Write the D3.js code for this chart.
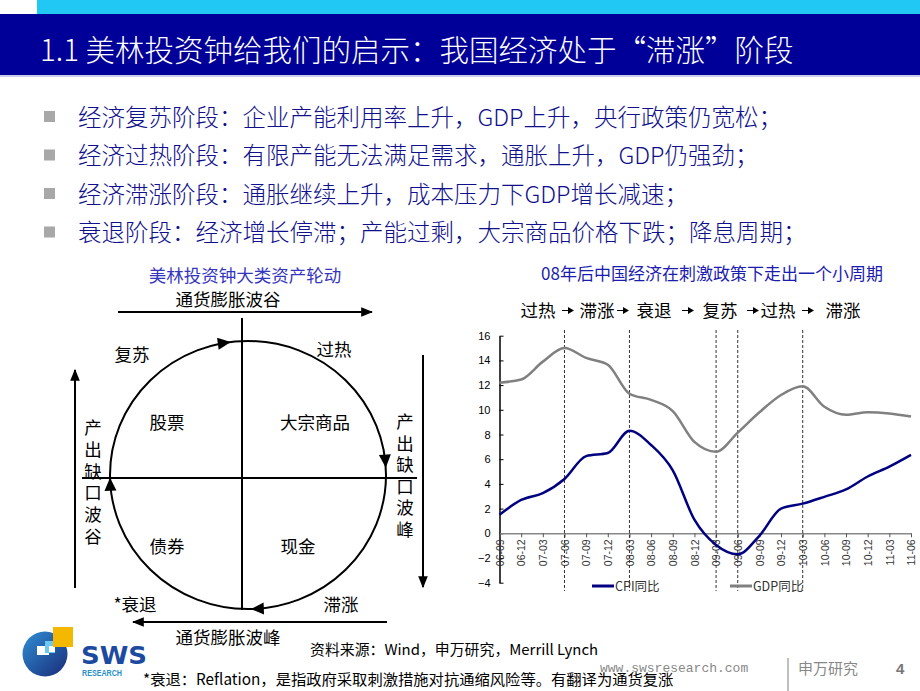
<!DOCTYPE html>
<html>
<head>
<meta charset="utf-8">
<script src="https://cdn.jsdelivr.net/npm/d3@7"></script>
<style>
  body { margin: 0; background: #fff; }
  svg { display: block; }
</style>
</head>
<body>
<div id="slide"></div>
<script>
// ---- data ----
var quarters = ["06-09","06-12","07-03","07-06","07-09","07-12","08-03","08-06","08-09","08-12",
                "09-03","09-06","09-09","09-12","10-03","10-06","10-09","10-12","11-03","11-06"];
var cpi = [1.5, 2.7, 3.25, 4.4, 6.25, 6.5, 8.3, 7.15, 5.1, 1.1,
           -0.95, -1.7, -0.2, 2.0, 2.4, 2.95, 3.55, 4.6, 5.4, 6.35];
var gdp = [12.2, 12.45, 13.9, 15.0, 14.2, 13.65, 11.3, 10.8, 9.9, 7.4,
           6.6, 8.15, 9.8, 11.2, 11.9, 10.25, 9.6, 9.8, 9.7, 9.45];
var yTicks = [16, 14, 12, 10, 8, 6, 4, 2, 0, -2, -4];
var turnPoints = ["07-06", "08-03", "09-03", "09-06", "10-03"];
var phaseNames = ["过热", "滞涨", "衰退", "复苏", "过热", "滞涨"];
var seriesNames = ["CPI同比", "GDP同比"];

var titleText = "1.1 美林投资钟给我们的启示：我国经济处于“滞涨”阶段";
var bullets = [
  "经济复苏阶段：企业产能利用率上升，GDP上升，央行政策仍宽松；",
  "经济过热阶段：有限产能无法满足需求，通胀上升，GDP仍强劲；",
  "经济滞涨阶段：通胀继续上升，成本压力下GDP增长减速；",
  "衰退阶段：经济增长停滞；产能过剩，大宗商品价格下跌；降息周期；"
];
var quadrants = ["股票", "大宗商品", "债券", "现金"];
var stages = ["复苏", "过热", "滞涨", "*衰退"];

var cjk = "'Noto Sans CJK SC', 'Noto Sans', sans-serif";
var arial = "'Liberation Sans', Arial, sans-serif";

var svg = d3.select("#slide").append("svg")
    .attr("width", 920)
    .attr("height", 691);

var defs = svg.append("defs");
defs.append("marker")
    .attr("id", "arrow")
    .attr("viewBox", "0 0 10 10")
    .attr("refX", 9).attr("refY", 5)
    .attr("markerWidth", 6).attr("markerHeight", 6)
    .attr("markerUnits", "strokeWidth")
    .attr("orient", "auto")
  .append("path")
    .attr("d", "M0,1 L10,5 L0,9 Z")
    .attr("fill", "#000");

var grad = defs.append("linearGradient")
    .attr("id", "logoGrad")
    .attr("x1", "0").attr("y1", "0").attr("x2", "1").attr("y2", "1");
grad.append("stop").attr("offset", "0%").attr("stop-color", "#2f8fd6");
grad.append("stop").attr("offset", "100%").attr("stop-color", "#1a2a78");

// ---- header ----
svg.append("rect").attr("x", 37).attr("y", 0).attr("width", 883).attr("height", 14)
    .attr("fill", "#22c8f4");
svg.append("rect").attr("x", 0).attr("y", 14).attr("width", 920).attr("height", 61)
    .attr("fill", "#000099");
svg.append("rect").attr("x", 0).attr("y", 75).attr("width", 920).attr("height", 2)
    .attr("fill", "#c8cce8");
svg.append("text")
    .attr("x", 40).attr("y", 61)
    .attr("font-family", cjk)
    .attr("font-size", "29.5px")
    .attr("font-weight", 300)
    .attr("fill", "#fff")
    .text(titleText);

// ---- bullets ----
var bulletG = svg.append("g");
bulletG.selectAll("rect")
    .data(bullets)
    .enter()
    .append("rect")
    .attr("x", 44)
    .attr("y", (d, i) => 111 + i * 38.5)
    .attr("width", 11).attr("height", 11)
    .attr("fill", "#a8a8a8");
bulletG.selectAll("text")
    .data(bullets)
    .enter()
    .append("text")
    .attr("x", 78)
    .attr("y", (d, i) => 125.5 + i * 38.5)
    .attr("font-family", cjk)
    .attr("font-size", "23.5px")
    .attr("font-weight", 300)
    .attr("fill", "#10108c")
    .text(d => d);

// ---- left: investment clock ----
var clock = svg.append("g");
clock.append("text")
    .attr("x", 245).attr("y", 282)
    .attr("text-anchor", "middle")
    .attr("font-family", cjk).attr("font-size", "17.5px")
    .attr("fill", "#3535c0")
    .text("美林投资钟大类资产轮动");
clock.append("text")
    .attr("x", 228).attr("y", 306)
    .attr("text-anchor", "middle")
    .attr("font-family", cjk).attr("font-size", "17.5px")
    .text("通货膨胀波谷");
clock.append("text")
    .attr("x", 228).attr("y", 644)
    .attr("text-anchor", "middle")
    .attr("font-family", cjk).attr("font-size", "17.5px")
    .text("通货膨胀波峰");

var arrows = [
  [118, 312, 372, 312],
  [387, 622, 133, 622],
  [75, 588, 75, 370],
  [423, 355, 423, 587]
];
clock.selectAll("line.arr")
    .data(arrows)
    .enter()
    .append("line")
    .classed("arr", true)
    .attr("x1", d => d[0]).attr("y1", d => d[1])
    .attr("x2", d => d[2]).attr("y2", d => d[3])
    .attr("stroke", "#000").attr("stroke-width", 2)
    .attr("marker-end", "url(#arrow)");

// cross
clock.append("line").attr("x1", 82).attr("x2", 417).attr("y1", 478).attr("y2", 478)
    .attr("stroke", "#000").attr("stroke-width", 2);
clock.append("line").attr("x1", 242).attr("x2", 242).attr("y1", 318).attr("y2", 610)
    .attr("stroke", "#000").attr("stroke-width", 2);

// circle with arrowheads
var ecx = 248, ecy = 475, erx = 138, ery = 134;
clock.append("ellipse")
    .attr("cx", ecx).attr("cy", ecy).attr("rx", erx).attr("ry", ery)
    .attr("fill", "none").attr("stroke", "#000").attr("stroke-width", 2);
[-98, -4, 88, 178].forEach(function(a) {
  var t = a * Math.PI / 180;
  var px = ecx + erx * Math.cos(t), py = ecy + ery * Math.sin(t);
  var ang = Math.atan2(ery * Math.cos(t), -erx * Math.sin(t)) * 180 / Math.PI;
  clock.append("path")
      .attr("d", "M2,0 L-11,-6 L-11,6 Z")
      .attr("transform", `translate(${px},${py}) rotate(${ang})`)
      .attr("fill", "#000");
});

var quadPos = [[167, 429], [315, 429], [167, 553], [298, 553]];
clock.selectAll("text.quad")
    .data(quadrants)
    .enter()
    .append("text")
    .classed("quad", true)
    .attr("x", (d, i) => quadPos[i][0])
    .attr("y", (d, i) => quadPos[i][1])
    .attr("text-anchor", "middle")
    .attr("font-family", cjk).attr("font-size", "17.5px")
    .text(d => d);

var stagePos = [[132, 361], [334, 356], [341, 611], [135, 611]];
clock.selectAll("text.stage")
    .data(stages)
    .enter()
    .append("text")
    .classed("stage", true)
    .attr("x", (d, i) => stagePos[i][0])
    .attr("y", (d, i) => stagePos[i][1])
    .attr("text-anchor", "middle")
    .attr("font-family", cjk).attr("font-size", "17.5px")
    .text(d => d);

// vertical captions
function vText(str, cx, y0, step) {
  clock.append("g").selectAll("text")
      .data(str.split(""))
      .enter()
      .append("text")
      .attr("x", cx)
      .attr("y", (d, i) => y0 + i * step)
      .attr("text-anchor", "middle")
      .attr("font-family", cjk).attr("font-size", "17.5px")
      .text(d => d);
}
vText("产出缺口波谷", 93, 434, 21.8);
vText("产出缺口波峰", 405, 428, 21.6);

// ---- right: CPI / GDP chart ----
var x = d3.scalePoint().domain(quarters).range([499.5, 911]);
var y = d3.scaleLinear().domain([-4, 16]).range([582.7, 335.7]);

svg.append("text")
    .attr("x", 712).attr("y", 280)
    .attr("text-anchor", "middle")
    .attr("font-family", cjk).attr("font-size", "17px")
    .attr("fill", "#1c1cb0")
    .text("08年后中国经济在刺激政策下走出一个小周期");

// phase sequence
var phaseX = [538, 597, 654, 720, 778, 843];
var phaseG = svg.append("g");
phaseG.selectAll("text")
    .data(phaseNames)
    .enter()
    .append("text")
    .attr("x", (d, i) => phaseX[i])
    .attr("y", 317)
    .attr("text-anchor", "middle")
    .attr("font-family", cjk).attr("font-size", "17.5px")
    .text(d => d);
var phaseArrowX = [562, 617, 682, 747, 802];
phaseG.selectAll("path")
    .data(phaseArrowX)
    .enter()
    .append("path")
    .attr("d", d => `M${d},${310} h6 v-3 l6,3.5 l-6,3.5 v-3 h-6 Z`)
    .attr("fill", "#000");

var plot = svg.append("g");

// axes
var yAxis = d3.axisLeft(y)
    .tickValues(yTicks)
    .tickSizeInner(-4)
    .tickSizeOuter(0)
    .tickPadding(9);
plot.append("g")
    .attr("transform", "translate(499.5,0)")
    .style("font-family", arial)
    .style("font-size", "11px")
    .call(yAxis)
    .call(g => g.select(".domain").attr("stroke-width", 1.5));

var xAxis = d3.axisBottom(x)
    .tickSizeInner(4)
    .tickSizeOuter(0);
plot.append("g")
    .attr("transform", `translate(0,${y(0)})`)
    .style("font-family", arial)
    .style("font-size", "10.5px")
    .call(xAxis)
    .call(g => g.select(".domain").attr("stroke", "#888").attr("stroke-width", 1.5))
    .call(g => g.selectAll(".tick line").attr("stroke", "#555"))
    .call(g => g.selectAll(".tick text")
        .attr("transform", "rotate(-90)")
        .attr("x", -6)
        .attr("y", 0)
        .attr("dy", "0.35em")
        .attr("text-anchor", "end")
        .attr("fill", "#333"));

// turning-point dashed lines
plot.selectAll("line.turn")
    .data(turnPoints)
    .enter()
    .append("line")
    .classed("turn", true)
    .attr("x1", d => x(d)).attr("x2", d => x(d))
    .attr("y1", 330).attr("y2", 591)
    .attr("stroke", "#333")
    .attr("stroke-width", 1)
    .attr("stroke-dasharray", "3,2");

var line = d3.line()
    .x((d, i) => x(quarters[i]))
    .y(d => y(d))
    .curve(d3.curveMonotoneX);

plot.append("path")
    .datum(gdp)
    .attr("d", line)
    .attr("fill", "none")
    .attr("stroke", "#808080")
    .attr("stroke-width", 2.5);
plot.append("path")
    .datum(cpi)
    .attr("d", line)
    .attr("fill", "none")
    .attr("stroke", "#000080")
    .attr("stroke-width", 2.5);

// legend
var legendX = [592, 730];
var legendColor = ["#000080", "#808080"];
var legend = plot.selectAll("g.legend")
    .data(seriesNames)
    .enter()
    .append("g")
    .classed("legend", true)
    .attr("transform", (d, i) => `translate(${legendX[i]},586)`);
legend.append("line")
    .attr("x1", 0).attr("x2", 22)
    .attr("stroke", (d, i) => legendColor[i])
    .attr("stroke-width", 3);
legend.append("text")
    .attr("x", 23)
    .attr("dy", "0.36em")
    .attr("font-family", cjk)
    .attr("font-size", "12.5px")
    .attr("fill", "#333")
    .text(d => d);

// ---- footer ----
svg.append("text")
    .attr("x", 310).attr("y", 655)
    .attr("font-family", cjk).attr("font-size", "14.9px")
    .text("资料来源：Wind，申万研究，Merrill Lynch");
svg.append("text")
    .attr("x", 143).attr("y", 685)
    .attr("font-family", cjk).attr("font-size", "15.3px")
    .text("*衰退：Reflation，是指政府采取刺激措施对抗通缩风险等。有翻译为通货复涨");
svg.append("text")
    .attr("x", 600).attr("y", 672)
    .attr("font-family", "'Liberation Mono', 'DejaVu Sans Mono', monospace")
    .attr("font-size", "13px")
    .attr("fill", "#888")
    .text("www.swsresearch.com");
svg.append("line")
    .attr("x1", 788).attr("x2", 788).attr("y1", 658).attr("y2", 691)
    .attr("stroke", "#aaa").attr("stroke-width", 1.5);
svg.append("text")
    .attr("x", 798).attr("y", 674)
    .attr("font-family", cjk).attr("font-size", "15px")
    .attr("fill", "#888")
    .text("申万研究");
svg.append("text")
    .attr("x", 896).attr("y", 674)
    .attr("font-family", arial).attr("font-size", "15px")
    .attr("font-weight", "bold")
    .attr("fill", "#777")
    .text("4");

// logo
var logo = svg.append("g");
logo.append("circle").attr("cx", 45).attr("cy", 654).attr("r", 22.5)
    .attr("fill", "url(#logoGrad)");
logo.append("rect").attr("x", 37).attr("y", 646).attr("width", 12).attr("height", 9)
    .attr("fill", "#fff");
logo.append("rect").attr("x", 45).attr("y", 641).attr("width", 10).attr("height", 12)
    .attr("fill", "#6cc8f0");
logo.append("rect").attr("x", 49).attr("y", 646).attr("width", 6).attr("height", 6)
    .attr("fill", "#fff");
logo.append("rect").attr("x", 53).attr("y", 627).attr("width", 20).attr("height", 20)
    .attr("fill", "#f5b800");
logo.append("text")
    .attr("x", 81).attr("y", 664)
    .attr("font-family", "'DejaVu Sans', sans-serif")
    .attr("font-size", "25px").attr("font-weight", "bold")
    .attr("textLength", 66).attr("lengthAdjust", "spacingAndGlyphs")
    .attr("fill", "#1c4aa0")
    .text("SWS");
logo.append("text")
    .attr("x", 82).attr("y", 676)
    .attr("font-family", arial)
    .attr("font-size", "8.5px").attr("font-weight", "bold")
    .attr("textLength", 40).attr("lengthAdjust", "spacingAndGlyphs")
    .attr("fill", "#2a90c8")
    .text("RESEARCH");
</script>
</body>
</html>
